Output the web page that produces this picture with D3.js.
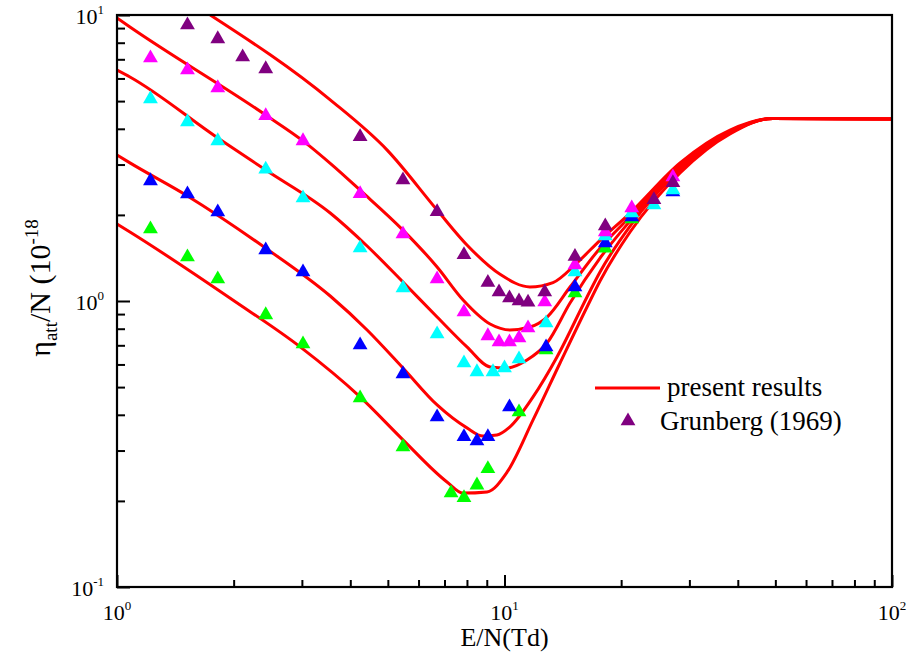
<!DOCTYPE html>
<html>
<head>
<meta charset="utf-8">
<script src="https://cdn.jsdelivr.net/npm/d3@7"></script>
<style>
  body { margin: 0; background: #fff; }
  svg { display: block; font-family: "Liberation Serif", "Times New Roman", serif; }
</style>
</head>
<body>
<div id="chart"></div>
<script>
const width = 908;
const height = 661;
const marginTop = 15;
const marginRight = 16;
const marginBottom = 74;
const marginLeft = 117;

// axis ticks
const xMajor = [1, 10, 100];
const xMinor = [2, 3, 4, 5, 6, 7, 8, 9, 20, 30, 40, 50, 60, 70, 80, 90];
const xTickExp = ["0", "1", "2"];
const yMajor = [0.1, 1, 10];
const yMinor = [0.2, 0.3, 0.4, 0.5, 0.6, 0.7, 0.8, 0.9, 2, 3, 4, 5, 6, 7, 8, 9];
const yTickExp = ["-1", "0", "1"];

// present results (five curves, top to bottom)
const fit1X = [1.74, 3.55, 4.98, 6.70, 8.00, 9.74, 11.63, 13.34, 15.39, 17.64, 21.09, 28.38, 38.19, 49.3, 100];
const fit1Y = [10.0, 5.05, 3.37, 2.08, 1.57, 1.24, 1.12, 1.16, 1.36, 1.63, 2.03, 3.04, 3.96, 4.35, 4.33];
const fit2X = [1.0, 1.08, 2.42, 3.02, 3.6, 4.24, 5.47, 6.70, 7.82, 9.18, 10.33, 11.63, 12.88, 14.76, 17.64, 21.09, 28.38, 38.19, 49.3, 100];
const fit2Y = [9.76, 9.08, 4.47, 3.63, 2.98, 2.44, 1.77, 1.315, 1.008, 0.831, 0.792, 0.811, 0.879, 1.119, 1.53, 1.97, 2.99, 3.93, 4.35, 4.33];
const fit3X = [1.0, 1.08, 1.82, 2.42, 3.55, 4.42, 5.47, 6.70, 8.00, 9.18, 10.15, 11.43, 12.88, 14.76, 17.64, 21.09, 28.38, 38.19, 49.3, 100];
const fit3Y = [6.42, 6.07, 3.715, 2.871, 2.031, 1.557, 1.165, 0.879, 0.691, 0.588, 0.583, 0.622, 0.713, 0.984, 1.413, 1.905, 2.94, 3.90, 4.35, 4.33];
const fit4X = [1.0, 1.08, 1.52, 2.42, 3.55, 4.42, 5.47, 6.70, 8.00, 8.80, 9.56, 10.33, 11.85, 13.66, 16.33, 17.64, 21.09, 28.38, 38.19, 49.3, 100];
const fit4Y = [3.24, 3.04, 2.33, 1.53, 1.041, 0.792, 0.583, 0.433, 0.360, 0.337, 0.340, 0.363, 0.462, 0.637, 1.033, 1.263, 1.829, 2.871, 3.87, 4.35, 4.33];
const fit5X = [1.0, 1.08, 1.99, 2.97, 4.24, 5.47, 7.105, 7.815, 9.013, 10.15, 11.85, 13.91, 16.33, 17.64, 21.09, 28.38, 38.19, 49.3, 100];
const fit5Y = [1.859, 1.743, 1.008, 0.691, 0.462, 0.327, 0.233, 0.213, 0.215, 0.252, 0.384, 0.607, 0.953, 1.175, 1.743, 2.803, 3.837, 4.35, 4.33];

// Grunberg (1969)
const purpleX = [1.52, 1.82, 2.11, 2.42, 4.24, 5.47, 6.70, 7.86, 9.06, 9.68, 10.3, 10.9, 11.5, 12.7, 15.2, 18.2, 24.3, 27.2];
const purpleY = [9.23, 8.25, 7.13, 6.48, 3.75, 2.65, 2.05, 1.45, 1.16, 1.075, 1.024, 1.0, 0.99, 1.075, 1.43, 1.83, 2.26, 2.59];
const magentaX = [1.22, 1.52, 1.82, 2.42, 3.02, 4.24, 5.47, 6.70, 7.86, 9.06, 9.68, 10.3, 10.9, 11.5, 12.7, 15.2, 18.2, 21.3, 27.2];
const magentaY = [7.07, 6.42, 5.56, 4.44, 3.63, 2.37, 1.715, 1.194, 0.915, 0.755, 0.719, 0.719, 0.742, 0.805, 0.992, 1.336, 1.743, 2.114, 2.715];
const cyanX = [1.22, 1.52, 1.82, 2.42, 3.02, 4.24, 5.47, 6.70, 7.86, 8.49, 9.34, 10.0, 10.9, 12.8, 15.2, 18.2, 21.3, 24.3, 27.2];
const cyanY = [5.09, 4.23, 3.63, 2.89, 2.29, 1.532, 1.11, 0.767, 0.607, 0.565, 0.565, 0.583, 0.627, 0.838, 1.263, 1.688, 2.03, 2.166, 2.444];
const blueX = [1.22, 1.52, 1.82, 2.42, 3.02, 4.24, 5.47, 6.70, 7.86, 8.49, 9.06, 10.3, 12.8, 15.2, 18.2, 21.3, 27.2];
const blueY = [2.63, 2.366, 2.048, 1.508, 1.263, 0.702, 0.556, 0.393, 0.335, 0.324, 0.335, 0.426, 0.690, 1.119, 1.595, 1.966, 2.405];
const greenX = [1.22, 1.52, 1.82, 2.42, 3.02, 4.24, 5.47, 7.28, 7.86, 8.49, 9.06, 10.9, 12.8, 15.2, 18.2, 21.3];
const greenY = [1.785, 1.425, 1.194, 0.894, 0.707, 0.458, 0.309, 0.213, 0.205, 0.227, 0.259, 0.409, 0.674, 1.066, 1.53, 1.935];

const fits = [[fit1X, fit1Y], [fit2X, fit2Y], [fit3X, fit3Y], [fit4X, fit4Y], [fit5X, fit5Y]];
// drawn bottom-up so purple ends on top
const points = [
    {x: greenX, y: greenY, color: "#00ff00"},
    {x: blueX, y: blueY, color: "#0000ff"},
    {x: cyanX, y: cyanY, color: "#00ffff"},
    {x: magentaX, y: magentaY, color: "#ff00ff"},
    {x: purpleX, y: purpleY, color: "#800080"}
];

const x = d3.scaleLog()
    .domain([1, 100])
    .range([marginLeft, width - marginRight]);

const y = d3.scaleLog()
    .domain([0.1, 10])
    .range([height - marginBottom, marginTop]);

const svg = d3.select("#chart").append("svg")
    .attr("width", width)
    .attr("height", height);

svg.append("clipPath")
    .attr("id", "plot-clip")
    .append("rect")
    .attr("x", marginLeft)
    .attr("y", marginTop)
    .attr("width", width - marginLeft - marginRight)
    .attr("height", height - marginTop - marginBottom);

// ticks point inward, no top/right ticks
function tickAxis(axis, values, size, transform) {
    svg.append("g")
        .attr("transform", transform)
        .call(axis.tickValues(values).tickSize(-size).tickFormat(""))
        .call(g => g.select(".domain").remove())
        .call(g => g.selectAll("line").attr("stroke", "#000").attr("stroke-width", 2));
}
tickAxis(d3.axisBottom(x), xMinor, 7, `translate(0,${height - marginBottom})`);
tickAxis(d3.axisBottom(x), xMajor, 12, `translate(0,${height - marginBottom})`);
tickAxis(d3.axisLeft(y), yMinor, 8, `translate(${marginLeft},0)`);
tickAxis(d3.axisLeft(y), yMajor, 13, `translate(${marginLeft},0)`);

// tick labels
svg.append("g")
    .selectAll("text")
    .data(xMajor)
    .join("text")
    .attr("x", d => x(d))
    .attr("y", height - marginBottom + 33)
    .attr("text-anchor", "middle")
    .style("font-size", "22px")
    .each(function(d, i) {
        const t = d3.select(this);
        t.append("tspan").text("10");
        t.append("tspan").attr("dy", -10).style("font-size", "13px").text(xTickExp[i]);
    });

svg.append("g")
    .selectAll("text")
    .data(yMajor)
    .join("text")
    .attr("x", marginLeft - 13)
    .attr("y", d => y(d) + 9)
    .attr("text-anchor", "end")
    .style("font-size", "22px")
    .each(function(d, i) {
        const t = d3.select(this);
        t.append("tspan").text("10");
        t.append("tspan").attr("dy", -10).style("font-size", "13px").text(yTickExp[i]);
    });

// axis titles
svg.append("text")
    .attr("x", x(10))
    .attr("y", height - 15)
    .attr("text-anchor", "middle")
    .style("font-size", "26px")
    .text("E/N(Td)");

const yTitle = svg.append("text")
    .attr("transform", `translate(50,${(marginTop + height - marginBottom) / 2 - 13}) rotate(-90)`)
    .attr("text-anchor", "middle")
    .style("font-size", "30px");
yTitle.append("tspan").text("η");
yTitle.append("tspan").attr("dy", 7).style("font-size", "19px").text("att");
yTitle.append("tspan").attr("dy", -7).text("/N (10");
yTitle.append("tspan").attr("dy", -12).style("font-size", "19px").text("-18");

// curves
const line = d3.line()
    .x(d => x(d[0]))
    .y(d => y(d[1]))
    .curve(d3.curveMonotoneX);

svg.append("g")
    .attr("clip-path", "url(#plot-clip)")
    .selectAll("path")
    .data(fits)
    .join("path")
    .attr("fill", "none")
    .attr("stroke", "#ff0000")
    .attr("stroke-width", 3)
    .attr("d", ([xs, ys]) => line(xs.map((v, i) => [v, ys[i]])));

// data markers
const tri = d3.symbol(d3.symbolTriangle, 95);
points.forEach(s => {
    svg.append("g")
        .selectAll("path")
        .data(s.x.map((v, i) => [v, s.y[i]]))
        .join("path")
        .attr("transform", d => `translate(${x(d[0])},${y(d[1])})`)
        .attr("fill", s.color)
        .attr("d", tri);
});

// frame
svg.append("rect")
    .attr("x", marginLeft)
    .attr("y", marginTop)
    .attr("width", width - marginLeft - marginRight)
    .attr("height", height - marginTop - marginBottom)
    .attr("fill", "none")
    .attr("stroke", "#000")
    .attr("stroke-width", 2.2);

// legend
const legend = svg.append("g").style("font-size", "27px");
legend.append("line")
    .attr("x1", 595).attr("x2", 660)
    .attr("y1", 388).attr("y2", 388)
    .attr("stroke", "#ff0000")
    .attr("stroke-width", 3);
legend.append("text").attr("x", 667).attr("y", 396).text("present results");
legend.append("path")
    .attr("transform", "translate(628,421)")
    .attr("fill", "#800080")
    .attr("d", tri);
legend.append("text").attr("x", 660).attr("y", 430).text("Grunberg (1969)");
</script>
</body>
</html>
